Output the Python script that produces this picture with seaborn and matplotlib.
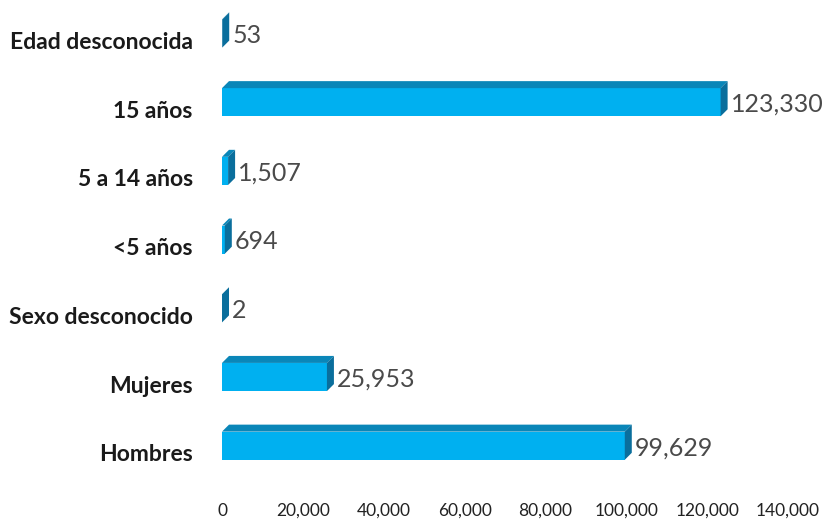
import matplotlib
matplotlib.use("Agg")
import matplotlib.pyplot as plt
import matplotlib.transforms as mtransforms
from matplotlib.patches import Polygon
import seaborn as sns
import pandas as pd

categories = ["Edad desconocida", "15 años", "5 a 14 años", "<5 años",
              "Sexo desconocido", "Mujeres", "Hombres"]
values = [53, 123330, 1507, 694, 2, 25953, 99629]
value_labels = ["53", "123,330", "1,507", "694", "2", "25,953", "99,629"]
x_ticks = [0, 20000, 40000, 60000, 80000, 100000, 120000, 140000]
x_tick_labels = ["0", "20,000", "40,000", "60,000", "80,000", "100,000", "120,000", "140,000"]

FRONT = "#00B0F0"
TOP = "#0A86B8"
SIDE = "#0A6E9C"

sns.set_theme(style="white")
plt.rcParams["font.family"] = ["Lato", "DejaVu Sans"]

W, H = 824, 523
AX_LEFT, AX_W = 222, 566
fig = plt.figure(figsize=(W / 100, H / 100), dpi=100)
ax = fig.add_axes([AX_LEFT / W, (H - 483.5) / H, AX_W / W, 480.9 / H])

df = pd.DataFrame({"grupo": categories, "casos": values})
bar_h = 0.41
sns.barplot(data=df, x="casos", y="grupo", order=categories, orient="h",
            color=FRONT, saturation=1, width=bar_h, linewidth=0, ax=ax)

ax.set_xlim(0, 140000)
ax.set_ylim(6.55, -0.45)

# depth of the pseudo-3D bars, in data units (7 px right, 7 px up)
px_x = 140000 / AX_W
px_y = 7.0 / 480.9
dx = 7 * px_x
dy = 7 * px_y

for i, v in enumerate(values):
    top = i - bar_h / 2
    bot = i + bar_h / 2
    top_face = Polygon([(0, top), (v, top), (v + dx, top - dy), (dx, top - dy)],
                       closed=True, facecolor=TOP, edgecolor="none", zorder=3)
    side_face = Polygon([(v, top), (v, bot), (v + dx, bot - dy), (v + dx, top - dy)],
                        closed=True, facecolor=SIDE, edgecolor="none", zorder=3)
    ax.add_patch(top_face)
    ax.add_patch(side_face)

val_off = mtransforms.ScaledTranslation(10 / 100, -2 / 100, fig.dpi_scale_trans)
for i, (v, lab) in enumerate(zip(values, value_labels)):
    ax.text(v, i, lab, ha="left", va="center", fontsize=18,
            color="#4a4a4a", transform=ax.transData + val_off, zorder=4)

ax.set_xticks(x_ticks)
ax.set_xticklabels(x_tick_labels, fontsize=12.5, color="#222222")
ax.tick_params(axis="x", length=0, pad=14)
ax.tick_params(axis="y", length=0, pad=21)
ax.set_yticks(range(len(categories)))
ax.set_yticklabels(categories, fontsize=16.5, fontweight="bold", color="#1a1a1a")
lab_off = mtransforms.ScaledTranslation(0, -7 / 100, fig.dpi_scale_trans)
for t in ax.get_yticklabels():
    t.set_transform(t.get_transform() + lab_off)

ax.set_xlabel("")
ax.set_ylabel("")
ax.grid(False)
for s in ax.spines.values():
    s.set_visible(False)

fig.savefig("out.png", dpi=100, facecolor="white")
